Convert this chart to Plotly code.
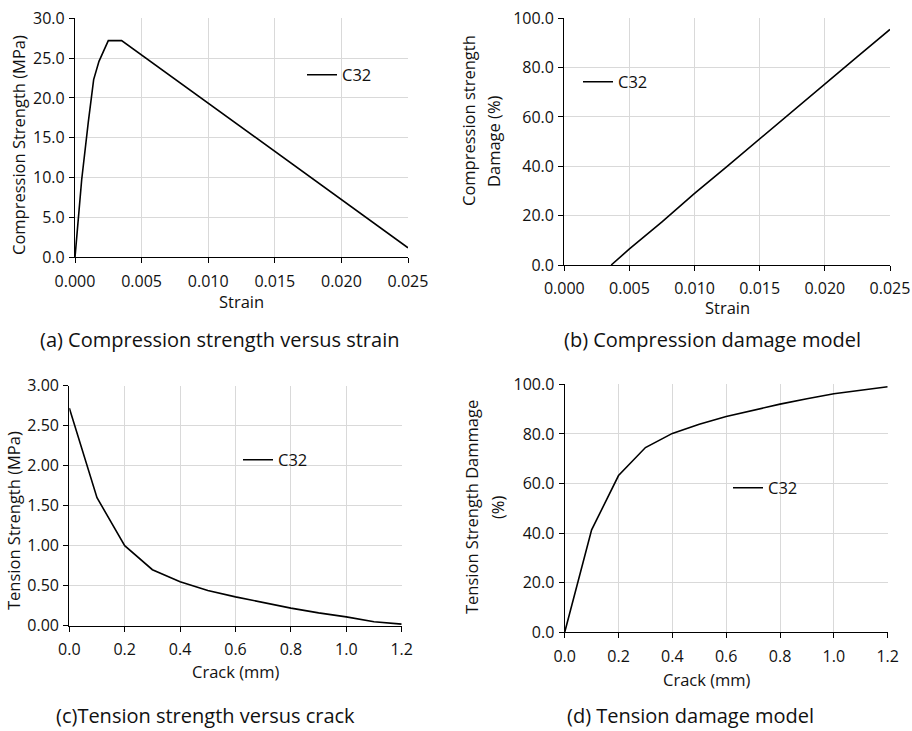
import plotly.graph_objects as go

# ---------------- data ----------------
comp_strain = [0, 0.0005, 0.001, 0.0014, 0.0018, 0.0022, 0.0025, 0.0035, 0.025]
comp_stress = [0, 9.7, 17.0, 22.3, 24.6, 26.2, 27.2, 27.2, 1.2]

dmg_strain = [0.0036, 0.005, 0.0075, 0.010, 0.0125, 0.015, 0.0175, 0.020, 0.0225, 0.025]
dmg_comp = [0, 6.5, 17.5, 29.0, 40.0, 51.2, 62.3, 73.5, 84.5, 95.5]

crack = [0.0, 0.1, 0.2, 0.3, 0.4, 0.5, 0.6, 0.7, 0.8, 0.9, 1.0, 1.1, 1.2]
tens_stress = [2.72, 1.60, 1.00, 0.70, 0.55, 0.44, 0.36, 0.29, 0.22, 0.16, 0.11, 0.05, 0.02]
tens_dmg = [0.0, 41.3, 63.2, 74.5, 80.2, 83.9, 87.0, 89.6, 92.0, 94.2, 96.2, 97.6, 99.0]

series_name = "C32"
captions = ["(a) Compression strength versus strain", "(b) Compression damage model",
            "(c)Tension strength versus crack", "(d) Tension damage model"]

W, H = 912, 731
FONT = "Open Sans"
TXT = "#111111"


def px(x):
    return x / W


def py(y):
    return 1 - y / H


fig = go.Figure()

traces = [
    (comp_strain, comp_stress, "x", "y", "legend"),
    (dmg_strain, dmg_comp, "x2", "y2", "legend2"),
    (crack, tens_stress, "x3", "y3", "legend3"),
    (crack, tens_dmg, "x4", "y4", "legend4"),
]
for xs, ys, xa, ya, lg in traces:
    fig.add_trace(go.Scatter(x=xs, y=ys, mode="lines", name=series_name,
                             line=dict(color="black", width=1.6),
                             xaxis=xa, yaxis=ya, legend=lg, showlegend=True))

# plot areas in pixels: (left, right, top, bottom)
areas = [(75, 408, 18.3, 257.3), (564.3, 890, 18.3, 265),
         (69.3, 401.7, 385.7, 625.7), (564.7, 887.7, 384.3, 632.3)]
xranges = [[0, 0.025], [0, 0.025], [0, 1.2], [0, 1.2]]
yranges = [[0, 30], [0, 100], [0, 3], [0, 100]]
xdt = [0.005, 0.005, 0.2, 0.2]
ydt = [5, 20, 0.5, 20]
xfmt = [".3f", ".3f", ".1f", ".1f"]
yfmt = [".1f", ".1f", ".2f", ".1f"]

axis_common = dict(showline=True, linecolor="black", linewidth=1.3,
                   showgrid=True, gridcolor="#d9d9d9", gridwidth=1,
                   zeroline=False, ticks="outside", ticklen=5, tickwidth=1.3,
                   tickcolor="black", tickfont=dict(family=FONT, size=16, color=TXT),
                   fixedrange=True, automargin=False)

layout = dict(width=W, height=H, margin=dict(l=0, r=0, t=0, b=0, autoexpand=False),
              paper_bgcolor="white", plot_bgcolor="white",
              font=dict(family=FONT, color=TXT))
for i, (l, r, t, b) in enumerate(areas):
    s = "" if i == 0 else str(i + 1)
    layout["xaxis" + s] = dict(axis_common, domain=[px(l), px(r)], range=xranges[i],
                               dtick=xdt[i], tick0=0, tickformat=xfmt[i],
                               anchor="y" + s, ticklabelstandoff=4)
    layout["yaxis" + s] = dict(axis_common, domain=[py(b), py(t)], range=yranges[i],
                               dtick=ydt[i], tick0=0, tickformat=yfmt[i],
                               anchor="x" + s, ticklabelstandoff=1)

# legends (text start x, center y)
leg_pos = [(342, 75), (618, 82), (278, 460), (768, 488)]
for i, (tx, ty) in enumerate(leg_pos):
    key = "legend" if i == 0 else "legend" + str(i + 1)
    layout[key] = dict(x=px(tx - 40), y=py(ty), xanchor="left", yanchor="middle",
                       bgcolor="rgba(255,255,255,0)", borderwidth=0,
                       font=dict(family=FONT, size=16.5, color=TXT))

fig.update_layout(**layout)

# white legend boxes (cover gridlines like the Excel legend area)
boxes = [(300, 378, 59, 92), (572, 657, 57, 107), (237, 312, 426, 495), (726, 803, 455, 520)]
for (x0, x1, y0, y1) in boxes:
    fig.add_shape(type="rect", xref="paper", yref="paper",
                  x0=px(x0), x1=px(x1), y0=py(y1), y1=py(y0),
                  fillcolor="white", line=dict(width=0), layer="between")

ann = []


def add_text(text, x, y, size, angle=0):
    ann.append(dict(text=text, x=px(x), y=py(y), xref="paper", yref="paper",
                    xanchor="center", yanchor="middle", showarrow=False,
                    textangle=angle, borderpad=0,
                    font=dict(family=FONT, size=size, color=TXT)))


TS = 16.5
# axis titles
add_text("Strain", 241.5, 301, TS)
add_text("Strain", 727, 308, TS)
add_text("Crack (mm)", 236, 671, TS)
add_text("Crack (mm)", 707, 679, TS)
add_text("Compression Strength (MPa)", 18, 145, TS, -90)
add_text("Compression strength", 468, 121, TS, -90)
add_text("Damage (%)", 493, 141, TS, -90)
add_text("Tension Strength (MPa)", 13, 521, TS, -90)
add_text("Tension Strength Dammage", 471, 507, TS, -90)
add_text("(%)", 497, 507, TS, -90)

# captions
cap_pos = [(219, 340), (712, 340), (205, 715), (690, 715)]
for c, (x, y) in zip(captions, cap_pos):
    add_text(c, x, y, 20)

fig.update_layout(annotations=ann)
fig.write_html("out.html")
